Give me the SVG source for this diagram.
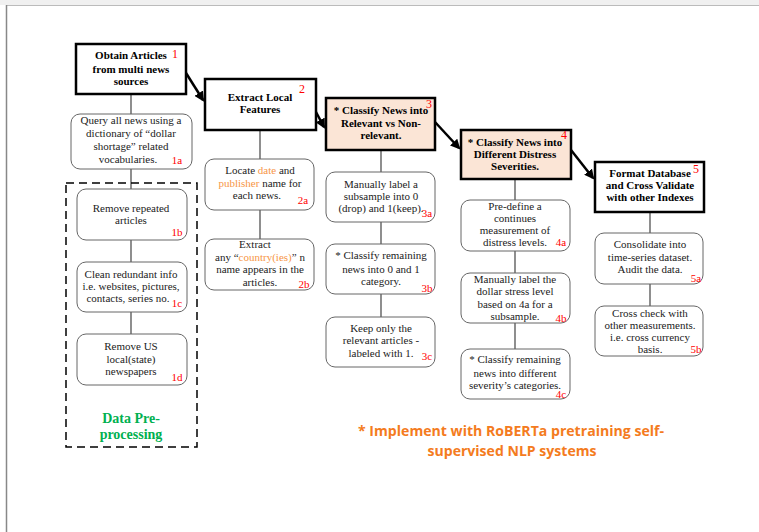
<svg xmlns="http://www.w3.org/2000/svg" width="759" height="532" viewBox="0 0 759 532">
<style>
.t{font-family:"Liberation Serif","Times New Roman",serif;font-size:11px;fill:#222;text-anchor:middle}
.b{font-weight:bold;fill:#000}
.n{font-family:"Liberation Serif","Times New Roman",serif;font-size:11px;fill:#ff0000;text-anchor:middle}
.o{fill:#f79646}
.main{fill:#fff;stroke:#000;stroke-width:2.5}
.pe{fill:#fbe5d6}
.sub{fill:#fff;stroke:#666;stroke-width:1}
.conn{stroke:#444;stroke-width:1.2;fill:none}
.arr{stroke:#000;stroke-width:2.5;fill:none;marker-end:url(#ah)}
.note{font-family:"Open Sans","Liberation Sans",sans-serif;font-size:14px;font-weight:bold;fill:#f47b20;text-anchor:middle}
</style>
<defs>
<marker id="ah" viewBox="0 0 10 10" refX="8" refY="5" markerWidth="4" markerHeight="4" orient="auto" markerUnits="strokeWidth">
<path d="M0,0 L10,5 L0,10 z" fill="#000"/>
</marker>
</defs>
<rect x="0" y="0" width="759" height="532" fill="#fff"/>
<rect x="0" y="0" width="759" height="5" fill="#f0f0f0"/>
<line x1="6" y1="5.5" x2="759" y2="5.5" stroke="#bbb" stroke-width="1"/>
<line x1="6.5" y1="5" x2="6.5" y2="532" stroke="#888" stroke-width="1.5"/>

<g id="connectors">
<line class="conn" x1="131" y1="94" x2="131" y2="114"/>
<line class="conn" x1="131" y1="169" x2="131" y2="189"/>
<line class="conn" x1="131" y1="240" x2="131" y2="262"/>
<line class="conn" x1="131" y1="312" x2="131" y2="334"/>
<line class="conn" x1="260" y1="130" x2="260" y2="159"/>
<line class="conn" x1="260" y1="210" x2="260" y2="239"/>
<line class="conn" x1="381" y1="150" x2="381" y2="172"/>
<line class="conn" x1="381" y1="222" x2="381" y2="244"/>
<line class="conn" x1="381" y1="294" x2="381" y2="317"/>
<line class="conn" x1="515" y1="179" x2="515" y2="200"/>
<line class="conn" x1="515" y1="251" x2="515" y2="273"/>
<line class="conn" x1="515" y1="323" x2="515" y2="349"/>
<line class="conn" x1="650" y1="212" x2="650" y2="233"/>
<line class="conn" x1="650" y1="284" x2="650" y2="306"/>
<line class="arr" x1="186" y1="73" x2="203" y2="100"/>
<line class="arr" x1="316" y1="112" x2="324" y2="127"/>
<line class="arr" x1="435" y1="122" x2="459" y2="148"/>
<line class="arr" x1="571" y1="150" x2="593" y2="178"/>
</g>

<g id="preprocessing">
<rect x="66" y="183" width="131" height="264" fill="none" stroke="#000" stroke-width="1.5" stroke-dasharray="8,5"/>
<text class="t b" x="131" y="423" style="font-size:14px;fill:#00b050">Data Pre-</text>
<text class="t b" x="131" y="439" style="font-size:14px;fill:#00b050">processing</text>
</g>

<g id="n1">
<rect class="main" x="76" y="44" width="110" height="50"/>
<text class="t b" x="131" y="59">Obtain Articles</text>
<text class="t b" x="131" y="73">from multi news</text>
<text class="t b" x="131" y="85">sources</text>
<text class="n" x="175" y="58" style="font-size:12px">1</text>
</g>
<g id="n1a">
<rect class="sub" x="71" y="114" width="121" height="55" rx="9"/>
<text class="t" x="131" y="124">Query all news using a</text>
<text class="t" x="131" y="137">dictionary of  “dollar</text>
<text class="t" x="131" y="150">shortage” related</text>
<text class="t" x="128" y="163">vocabularies.</text>
<text class="n" x="177" y="164">1a</text>
</g>
<g id="n1b">
<rect class="sub" x="77" y="189" width="110" height="51" rx="9"/>
<text class="t" x="131" y="212">Remove repeated</text>
<text class="t" x="131" y="224">articles</text>
<text class="n" x="177" y="236">1b</text>
</g>
<g id="n1c">
<rect class="sub" x="77" y="262" width="110" height="50" rx="9"/>
<text class="t" x="131" y="278">Clean redundant info</text>
<text class="t" x="131" y="290">i.e. websites, pictures,</text>
<text class="t" x="128" y="302">contacts, series no.</text>
<text class="n" x="177" y="307">1c</text>
</g>
<g id="n1d">
<rect class="sub" x="77" y="334" width="110" height="51" rx="9"/>
<text class="t" x="131" y="350">Remove US</text>
<text class="t" x="131" y="363">local(state)</text>
<text class="t" x="131" y="375">newspapers</text>
<text class="n" x="177" y="381">1d</text>
</g>

<g id="n2">
<rect class="main" x="205" y="79" width="111" height="51"/>
<text class="t b" x="260" y="101">Extract Local</text>
<text class="t b" x="260" y="113">Features</text>
<text class="n" x="302" y="93" style="font-size:12px">2</text>
</g>
<g id="n2a">
<rect class="sub" x="205" y="159" width="109" height="51" rx="9"/>
<text class="t" x="260" y="174">Locate <tspan class="o">date</tspan> and</text>
<text class="t" x="260" y="187"><tspan class="o">publisher</tspan> name for</text>
<text class="t" x="257" y="199">each news.</text>
<text class="n" x="303" y="204">2a</text>
</g>
<g id="n2b">
<rect class="sub" x="205" y="239" width="109" height="51" rx="9"/>
<text class="t" x="255" y="248">Extract</text>
<text class="t" x="260" y="261">any “<tspan class="o">country(ies)</tspan>” n</text>
<text class="t" x="260" y="273">name appears in the</text>
<text class="t" x="260" y="286">articles.</text>
<text class="n" x="304" y="288">2b</text>
</g>

<g id="n3">
<rect class="main pe" x="326" y="98" width="109" height="52"/>
<text class="t b" x="381" y="114">* Classify News into</text>
<text class="t b" x="381" y="127">Relevant vs Non-</text>
<text class="t b" x="381" y="139">relevant.</text>
<text class="n" x="429" y="108" style="font-size:12px">3</text>
</g>
<g id="n3a">
<rect class="sub" x="326" y="172" width="109" height="50" rx="9"/>
<text class="t" x="381" y="188">Manually label a</text>
<text class="t" x="381" y="200">subsample  into 0</text>
<text class="t" x="381" y="212">(drop) and 1(keep).</text>
<text class="n" x="427" y="217">3a</text>
</g>
<g id="n3b">
<rect class="sub pe" x="326" y="244" width="109" height="50" rx="9"/>
<text class="t" x="381" y="259">* Classify  remaining</text>
<text class="t" x="381" y="273">news into 0 and 1</text>
<text class="t" x="381" y="285">category.</text>
<text class="n" x="427" y="292">3b</text>
</g>
<g id="n3c">
<rect class="sub" x="326" y="317" width="109" height="50" rx="9"/>
<text class="t" x="381" y="332">Keep only the</text>
<text class="t" x="381" y="344">relevant articles  -</text>
<text class="t" x="381" y="357">labeled with 1.</text>
<text class="n" x="427" y="360">3c</text>
</g>

<g id="n4">
<rect class="main pe" x="461" y="130" width="110" height="49"/>
<text class="t b" x="515" y="146">* Classify News into</text>
<text class="t b" x="515" y="158">Different Distress</text>
<text class="t b" x="515" y="170">Severities.</text>
<text class="n" x="564" y="139" style="font-size:12px">4</text>
</g>
<g id="n4a">
<rect class="sub" x="461" y="200" width="109" height="51" rx="9"/>
<text class="t" x="515" y="210">Pre-define a</text>
<text class="t" x="515" y="222">continues</text>
<text class="t" x="515" y="234">measurement of</text>
<text class="t" x="515" y="246">distress levels.</text>
<text class="n" x="561" y="246">4a</text>
</g>
<g id="n4b">
<rect class="sub" x="461" y="273" width="109" height="50" rx="9"/>
<text class="t" x="515" y="283">Manually label the</text>
<text class="t" x="515" y="295">dollar stress level</text>
<text class="t" x="515" y="308">based on 4a for a</text>
<text class="t" x="515" y="320">subsample.</text>
<text class="n" x="561" y="322">4b</text>
</g>
<g id="n4c">
<rect class="sub pe" x="461" y="349" width="109" height="50" rx="9"/>
<text class="t" x="515" y="363">* Classify remaining</text>
<text class="t" x="515" y="377">news into different</text>
<text class="t" x="515" y="389">severity’s categories.</text>
<text class="n" x="561" y="398">4c</text>
</g>

<g id="n5">
<rect class="main" x="595" y="162" width="109" height="50"/>
<text class="t b" x="650" y="177">Format Database</text>
<text class="t b" x="650" y="189">and Cross Validate</text>
<text class="t b" x="650" y="201">with other Indexes</text>
<text class="n" x="696" y="173" style="font-size:12px">5</text>
</g>
<g id="n5a">
<rect class="sub" x="595" y="233" width="108" height="51" rx="9"/>
<text class="t" x="650" y="248">Consolidate into</text>
<text class="t" x="650" y="261">time-series dataset.</text>
<text class="t" x="650" y="273">Audit the data.</text>
<text class="n" x="696" y="282">5a</text>
</g>
<g id="n5b">
<rect class="sub" x="595" y="306" width="108" height="50" rx="9"/>
<text class="t" x="650" y="317">Cross check with</text>
<text class="t" x="650" y="329">other measurements.</text>
<text class="t" x="650" y="341">i.e. cross currency</text>
<text class="t" x="650" y="353">basis.</text>
<text class="n" x="696" y="353">5b</text>
</g>

<g id="note">
<text class="note" x="511" y="436" textLength="306" lengthAdjust="spacingAndGlyphs">* Implement with RoBERTa pretraining self-</text>
<text class="note" x="512" y="456" textLength="169" lengthAdjust="spacingAndGlyphs">supervised NLP systems</text>
</g>
</svg>
